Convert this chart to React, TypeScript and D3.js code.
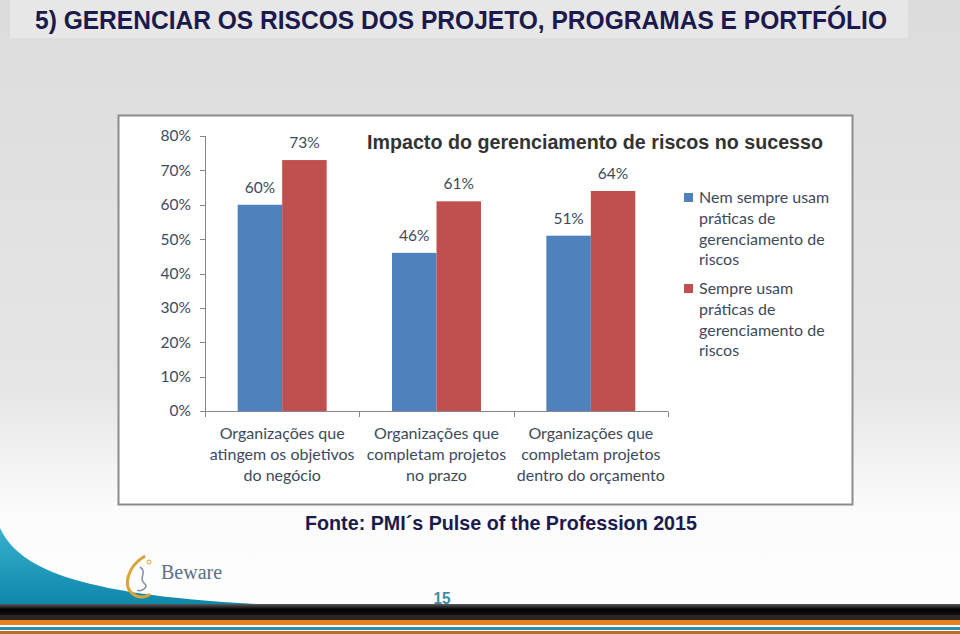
import React from "react";
import * as d3 from "d3";

const categories = [
  ["Organizações que", "atingem os objetivos", "do negócio"],
  ["Organizações que", "completam projetos", "no prazo"],
  ["Organizações que", "completam projetos", "dentro do orçamento"],
];
const seriesNames = [
  ["Nem sempre usam", "práticas de", "gerenciamento de", "riscos"],
  ["Sempre usam", "práticas de", "gerenciamento de", "riscos"],
];
const seriesColors = ["#4f81bd", "#c0504d"];
const naoSempre = [0.6, 0.46, 0.51];
const sempre = [0.73, 0.61, 0.64];
const yTicks = [0, 0.1, 0.2, 0.3, 0.4, 0.5, 0.6, 0.7, 0.8];
const pageTitle = "5) GERENCIAR OS RISCOS DOS PROJETO, PROGRAMAS E PORTFÓLIO";
const chartTitle = "Impacto do gerenciamento de riscos no sucesso";
const source = "Fonte: PMI´s Pulse of the Profession 2015";

const W = 960;
const H = 634;
const labelFont = "Lato, 'Open Sans', sans-serif";
const textCol = "#3d4a5c";
const sans = "'Liberation Sans', Arial, sans-serif";

export default function App() {
  const keys = categories.map((_, i) => String(i));
  const x0 = d3.scaleBand().domain(keys).range([205, 668]).padding(0);
  const x1 = d3
    .scaleBand()
    .domain(["0", "1"])
    .range([0, x0.bandwidth()])
    .paddingInner(0)
    .paddingOuter(0.735);
  const y = d3.scaleLinear().domain([0, 0.8]).range([411, 136]);
  const fmt = d3.format(".0%");
  const seriesVals = [naoSempre, sempre];

  return (
    <svg
      width={W}
      height={H}
      style={{ position: "fixed", left: 0, top: 0, display: "block" }}
    >
      <defs>
        <linearGradient id="bg" x1="0" y1="0" x2="0" y2="1">
          <stop offset="0" stopColor="#dcdcdc" />
          <stop offset="0.62" stopColor="#e6e6e6" />
          <stop offset="0.8" stopColor="#fbfbfb" />
          <stop offset="1" stopColor="#ffffff" />
        </linearGradient>
        <linearGradient id="blk" x1="0" y1="0" x2="0" y2="1">
          <stop offset="0" stopColor="#5a5a5a" />
          <stop offset="0.5" stopColor="#000000" />
          <stop offset="1" stopColor="#111111" />
        </linearGradient>
        <linearGradient id="teal" x1="0" y1="0" x2="0" y2="1">
          <stop offset="0" stopColor="#39b0cf" />
          <stop offset="1" stopColor="#0d86a8" />
        </linearGradient>
      </defs>
      <rect x={0} y={0} width={W} height={H} fill="url(#bg)" />
      <rect x={10} y={0} width={898} height={38} fill="#e7e7e7" />
      <text
        x={35}
        y={29}
        fontFamily={sans}
        fontWeight="bold"
        fontSize={26}
        textLength={852}
        lengthAdjust="spacingAndGlyphs"
        fill="#1b1a4d"
      >
        {pageTitle}
      </text>

      {/* bottom decoration */}
      <path
        d={`M0,528 C20,570 80,598 300,606 L0,606 Z`}
        fill="url(#teal)"
      />
      <rect x={0} y={604} width={W} height={11} fill="url(#blk)" />
      <rect x={0} y={615} width={W} height={5} fill="#2f2520" />
      <rect x={0} y={620} width={W} height={5} fill="#e4821f" />
      <rect x={0} y={625} width={W} height={2} fill="#ffffff" />
      <rect x={0} y={627} width={W} height={3} fill="#2b8fb0" />
      <rect x={0} y={630} width={W} height={1} fill="#ffffff" />
      <rect x={0} y={631} width={W} height={3} fill="#b7702a" />

      {/* logo */}
      <path
        d="M145,556 C128,566 122,586 133,594 C138,598 146,598 150,594"
        fill="none"
        stroke="#d9a53a"
        strokeWidth={3}
      />
      <path
        d="M140,567 C148,572 138,578 144,583 C150,588 140,592 137,590"
        fill="none"
        stroke="#7d8fa8"
        strokeWidth={1.5}
      />
      <circle cx={149} cy={562} r={2} fill="none" stroke="#d9a53a" />
      <text
        x={161}
        y={579}
        fontFamily="'Liberation Serif', 'DejaVu Serif', serif"
        fontSize={20}
        fill="#5b6f86"
      >
        Beware
      </text>
      <text
        x={442}
        y={604}
        textAnchor="middle"
        fontFamily={sans}
        fontWeight="bold"
        fontSize={17}
        textLength={17}
        lengthAdjust="spacingAndGlyphs"
        fill="#3f8c9f"
      >
        15
      </text>

      {/* chart box */}
      <rect
        x={118.5}
        y={115.5}
        width={734}
        height={389}
        fill="#ffffff"
        stroke="#8c8c8c"
        strokeWidth={2}
      />
      <text
        x={367}
        y={149}
        fontFamily={sans}
        fontWeight="bold"
        fontSize={19.5}
        textLength={456}
        lengthAdjust="spacingAndGlyphs"
        fill="#333333"
      >
        {chartTitle}
      </text>

      {/* y axis */}
      <line x1={205.5} x2={205.5} y1={y(0.8)} y2={y(0)} stroke="#868686" />
      {yTicks.map((t) => (
        <g key={t}>
          <line
            x1={200}
            x2={205.5}
            y1={Math.round(y(t)) + 0.5}
            y2={Math.round(y(t)) + 0.5}
            stroke="#868686"
          />
          <text
            x={191}
            y={y(t)}
            dy="0.35em"
            textAnchor="end"
            fontFamily={labelFont}
            fontSize={15.5}
            fill={textCol}
          >
            {fmt(t)}
          </text>
        </g>
      ))}

      {/* x axis */}
      <line x1={205} x2={668} y1={411.5} y2={411.5} stroke="#868686" />
      {[...keys.map((k) => x0(k) as number), 668].map((v, i) => (
        <line
          key={i}
          x1={Math.round(v) + 0.5}
          x2={Math.round(v) + 0.5}
          y1={411.5}
          y2={417}
          stroke="#868686"
        />
      ))}

      {/* bars */}
      {keys.map((k, ci) => (
        <g key={k} transform={`translate(${x0(k)},0)`}>
          {seriesVals.map((vals, si) => (
            <g key={si}>
              <rect
                x={x1(String(si))}
                y={y(vals[ci])}
                width={x1.bandwidth()}
                height={y(0) - y(vals[ci])}
                fill={seriesColors[si]}
              />
              <text
                x={(x1(String(si)) as number) + x1.bandwidth() / 2}
                y={y(vals[ci]) - 12}
                textAnchor="middle"
                fontFamily={labelFont}
                fontSize={15.5}
                fill={textCol}
              >
                {fmt(vals[ci])}
              </text>
            </g>
          ))}
          {categories[ci].map((line, li) => (
            <text
              key={li}
              x={x0.bandwidth() / 2}
              y={439 + li * 21}
              textAnchor="middle"
              fontFamily={labelFont}
              fontSize={16}
              fill={textCol}
            >
              {line}
            </text>
          ))}
        </g>
      ))}

      {/* legend */}
      {seriesNames.map((lines, si) => (
        <g key={si} transform={`translate(684,${193 + si * 91})`}>
          <rect x={0} y={0} width={9} height={9} fill={seriesColors[si]} />
          {lines.map((l, li) => (
            <text
              key={li}
              x={15}
              y={10 + li * 20.8}
              fontFamily={labelFont}
              fontSize={16}
              fill={textCol}
            >
              {l}
            </text>
          ))}
        </g>
      ))}

      <text
        x={305}
        y={530}
        fontFamily={sans}
        fontWeight="bold"
        fontSize={21}
        textLength={392}
        lengthAdjust="spacingAndGlyphs"
        fill="#1b1a4d"
      >
        {source}
      </text>
    </svg>
  );
}
